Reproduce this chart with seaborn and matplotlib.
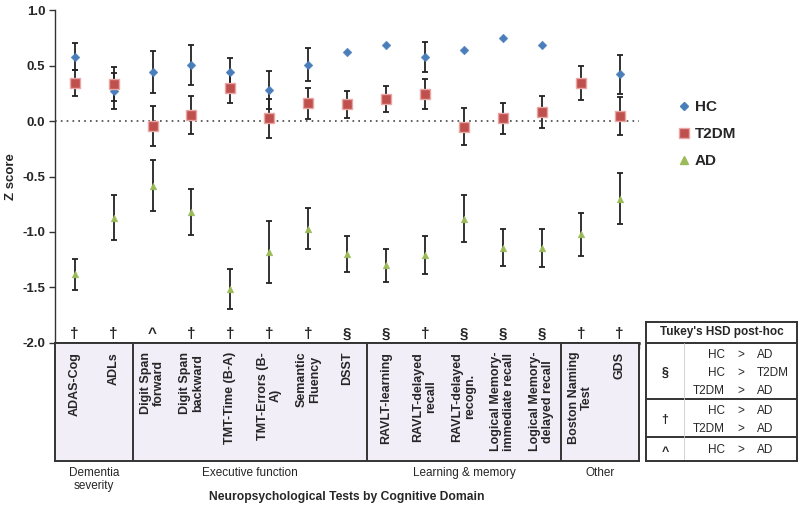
import numpy as np
import pandas as pd
import seaborn as sns
import matplotlib.pyplot as plt
from matplotlib.lines import Line2D

sns.set_style("white")
plt.rcParams['font.family'] = ['Liberation Sans', 'DejaVu Sans']

# Data
tests = ["ADAS-Cog", "ADLs", "Digit Span\nforward", "Digit Span\nbackward",
         "TMT-Time (B-A)", "TMT-Errors (B-\nA)", "Semantic\nFluency", "DSST",
         "RAVLT-learning", "RAVLT-delayed\nrecall", "RAVLT-delayed\nrecogn.",
         "Logical Memory-\nimmediate recall", "Logical Memory-\ndelayed recall",
         "Boston Naming\nTest", "GDS"]

hc_mean = [0.58, 0.27, 0.44, 0.505, 0.44, 0.28, 0.51, 0.62, 0.685, 0.58, 0.64, 0.745, 0.685, 0.35, 0.42]
hc_err = [0.12, 0.16, 0.19, 0.18, 0.13, 0.17, 0.15, 0, 0, 0.135, 0, 0, 0, 0, 0.18]
t2dm_mean = [0.345, 0.335, -0.045, 0.055, 0.30, 0.025, 0.16, 0.15, 0.20, 0.24, -0.05, 0.025, 0.085, 0.345, 0.045]
t2dm_err = [0.115, 0.15, 0.18, 0.17, 0.135, 0.175, 0.14, 0.125, 0.12, 0.135, 0.165, 0.14, 0.145, 0.155, 0.175]
ad_mean = [-1.38, -0.87, -0.585, -0.82, -1.51, -1.18, -0.97, -1.20, -1.30, -1.21, -0.88, -1.14, -1.145, -1.02, -0.70]
ad_err = [0.14, 0.20, 0.23, 0.21, 0.18, 0.28, 0.185, 0.16, 0.15, 0.17, 0.21, 0.17, 0.175, 0.195, 0.23]

sig = ["†", "†", "^", "†", "†", "†", "†", "§", "§", "†", "§", "§", "§", "†", "†"]

domains = ["Dementia\nseverity", "Executive function", "Learning & memory", "Other"]
domain_span = [(0, 1), (2, 7), (8, 12), (13, 14)]

tukey_sym = ["§", "†", "^"]
tukey_rows = [[("HC", "AD"), ("HC", "T2DM"), ("T2DM", "AD")],
              [("HC", "AD"), ("T2DM", "AD")],
              [("HC", "AD")]]

groups = ["HC", "T2DM", "AD"]
colors = {"HC": "#4A7EBB", "T2DM": "#C0504D", "AD": "#9BBB59"}
markers = {"HC": "D", "T2DM": "s", "AD": "^"}
sizes = {"HC": 20, "T2DM": 42, "AD": 24}
edge = {"HC": "#4A7EBB", "T2DM": "#E8A7A5", "AD": "#9BBB59"}

n = len(tests)
pos = np.arange(n)
df = pd.DataFrame({
    "pos": np.tile(pos, 3),
    "z": hc_mean + t2dm_mean + ad_mean,
    "err": hc_err + t2dm_err + ad_err,
    "group": np.repeat(groups, n),
})

fig = plt.figure(figsize=(8, 5.08), dpi=100)
ax = fig.add_axes([0.069, 0.325, 0.73, 0.655])

ax.axhline(0, color="#444444", lw=1.2, ls=(0, (1, 2.5)), zorder=1)

for g in groups:
    sub = df[(df["group"] == g) & (df["err"] > 0)]
    ax.errorbar(sub["pos"], sub["z"], yerr=sub["err"], fmt="none",
                ecolor="#222222", elinewidth=1.3, capsize=2.2, capthick=1.3, zorder=2)

for g in groups:
    sub = df[df["group"] == g]
    sns.scatterplot(data=sub, x="pos", y="z", marker=markers[g], color=colors[g],
                    s=sizes[g], edgecolor=edge[g], linewidth=1.0 if g == "T2DM" else 0.3,
                    ax=ax, zorder=3, legend=False)

yt = np.arange(-2, 1.01, 0.5)
ax.set_xlim(-0.5, n - 0.5)
ax.set_ylim(-2, 1)
ax.set_yticks(yt)
ax.set_yticklabels([f"{v:.1f}" for v in yt], fontsize=9.5, fontweight="bold")
ax.set_xticks(np.arange(-0.5, n, 1))
ax.set_xticklabels([])
ax.tick_params(axis="y", direction="out", length=4, width=1, color="#333333", pad=3, left=True)
ax.tick_params(axis="x", direction="out", length=4, width=1, color="#333333", bottom=True)
ax.set_xlabel("")
ax.set_ylabel("Z score", fontsize=9.5, fontweight="bold", labelpad=4)
for s in ["top", "right"]:
    ax.spines[s].set_visible(False)
ax.spines["left"].set_color("#333333")
ax.spines["left"].set_linewidth(1)
ax.spines["bottom"].set_color("#333333")
ax.spines["bottom"].set_linewidth(1.8)

for i, s in enumerate(sig):
    ax.text(i, -1.92, s, ha="center", va="center", fontsize=11, fontweight="bold")

handles = [Line2D([], [], marker=markers[g], ls="none", color=colors[g],
                  markersize={"HC": 4.5, "T2DM": 7.5, "AD": 5.5}[g],
                  markeredgecolor=edge[g]) for g in groups]
ax.legend(handles, groups, loc="upper left", bbox_to_anchor=(1.04, 0.77), frameon=False,
          handletextpad=0.2, handlelength=1.0, labelspacing=0.85,
          prop={"weight": "bold", "size": 11})

# category table under the axis
tab = fig.add_axes([0.069, 0.0925, 0.73, 0.2325])
tab.set_xlim(-0.5, n - 0.5)
tab.set_ylim(0, 1)
tab.set_facecolor("#F1EEF8")
tab.set_xticks([])
tab.set_yticks([])
for s in tab.spines.values():
    s.set_color("#333333")
    s.set_linewidth(1.4)
for a, b in domain_span[1:]:
    tab.axvline(a - 0.5, color="#333333", lw=1.4)
for i, t in enumerate(tests):
    tab.text(i, 0.925, t, rotation=90, ha="center", va="top", fontsize=9,
             fontweight="bold", multialignment="center", linespacing=1.1)
for d, (a, b) in zip(domains, domain_span):
    tab.text((a + b) / 2, -0.05, d, ha="center", va="top", fontsize=8.5,
             multialignment="center", linespacing=1.15, clip_on=False)

fig.text(0.069 + 0.73 / 2, 1 - 497 / 508, "Neuropsychological Tests by Cognitive Domain",
         ha="center", va="center", fontsize=8.7, fontweight="bold")

# Tukey table
tk = fig.add_axes([646 / 800, 1 - 461 / 508, 151 / 800, 139 / 508])
tk.set_xlim(646, 797)
tk.set_ylim(461, 322)
tk.set_xticks([])
tk.set_yticks([])
tk.patch.set_alpha(0)
for s in tk.spines.values():
    s.set_color("#333333")
    s.set_linewidth(1.4)
for yv in [343, 399, 437]:
    tk.axhline(yv, color="#333333", lw=1.4)
tk.plot([684, 684], [343, 461], color="#CCCCCC", lw=0.6)
tk.text(721.5, 332.5, "Tukey's HSD post-hoc", ha="center", va="center", fontsize=8.5, fontweight="bold")
row_y = [[355, 373, 391], [411, 429], [450]]
sym_y = [373, 420, 452]
for sym, rows, ys, sy in zip(tukey_sym, tukey_rows, row_y, sym_y):
    tk.text(665, sy, sym, ha="center", va="center", fontsize=9, fontweight="bold")
    for (l, r), yv in zip(rows, ys):
        tk.text(725, yv, l, ha="right", va="center", fontsize=8.5)
        tk.text(741, yv, ">", ha="center", va="center", fontsize=8.5)
        tk.text(757, yv, r, ha="left", va="center", fontsize=8.5)

fig.savefig("out.png", dpi=100)
